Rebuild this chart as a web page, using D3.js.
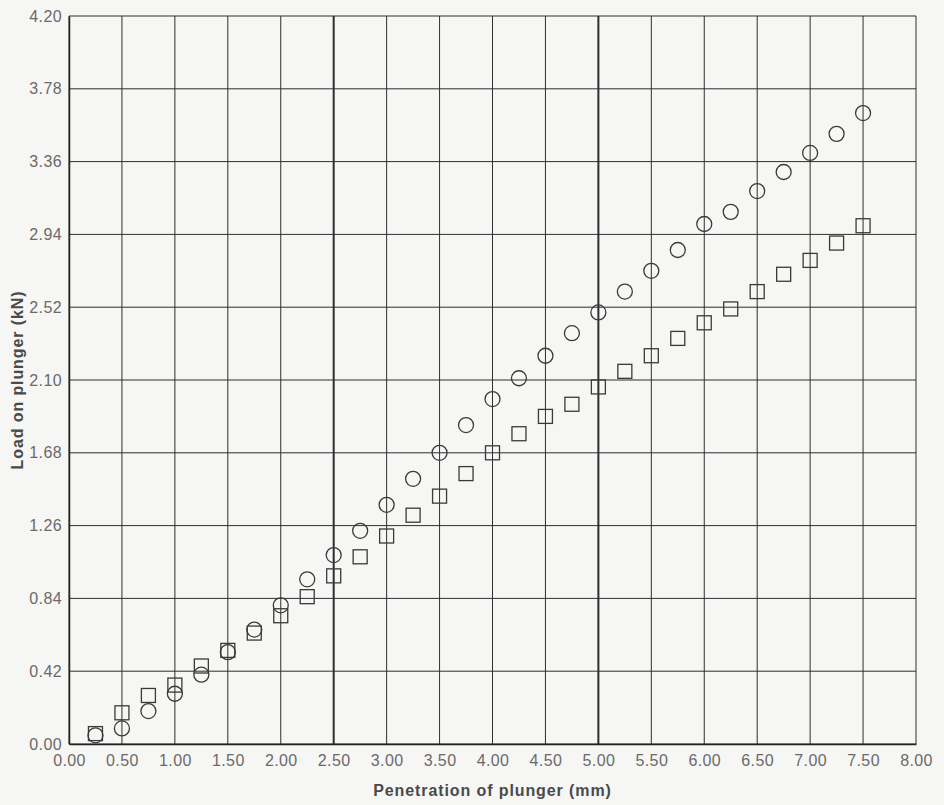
<!DOCTYPE html>
<html>
<head>
<meta charset="utf-8">
<script src="https://cdn.jsdelivr.net/npm/d3@7.9.0/dist/d3.min.js"></script>
<style>
  html, body { margin: 0; padding: 0; background: #f6f6f4; }
  svg { display: block; }
  .tick text { font-family: "Liberation Sans", Arial, sans-serif; font-size: 16px; fill: #6a6a6a; letter-spacing: 0.4px; }
  .axis-title { font-family: "Liberation Sans", Arial, sans-serif; font-size: 16px; font-weight: bold; fill: #4a4a4a; letter-spacing: 0.9px; }
</style>
</head>
<body>
<svg id="chart" width="944" height="805"></svg>
<script>
// penetration (mm) at which loads were read
const penetration = [0.25, 0.5, 0.75, 1.0, 1.25, 1.5, 1.75, 2.0, 2.25, 2.5, 2.75, 3.0, 3.25, 3.5, 3.75,
  4.0, 4.25, 4.5, 4.75, 5.0, 5.25, 5.5, 5.75, 6.0, 6.25, 6.5, 6.75, 7.0, 7.25, 7.5];

// load on plunger (kN), circle markers
const loadCircle = [0.05, 0.09, 0.19, 0.29, 0.40, 0.53, 0.66, 0.80, 0.95, 1.09, 1.23, 1.38, 1.53, 1.68, 1.84,
  1.99, 2.11, 2.24, 2.37, 2.49, 2.61, 2.73, 2.85, 3.00, 3.07, 3.19, 3.30, 3.41, 3.52, 3.64];

// load on plunger (kN), square markers
const loadSquare = [0.06, 0.18, 0.28, 0.34, 0.45, 0.54, 0.64, 0.74, 0.85, 0.97, 1.08, 1.20, 1.32, 1.43, 1.56,
  1.68, 1.79, 1.89, 1.96, 2.06, 2.15, 2.24, 2.34, 2.43, 2.51, 2.61, 2.71, 2.79, 2.89, 2.99];

const xTicks = d3.range(0, 8.001, 0.5);
const yTicks = d3.range(0, 11).map(i => +(i * 0.42).toFixed(2));

const svg = d3.select('#chart');
const margin = { left: 69, right: 28, top: 16, bottom: 61 };
const W = 944, H = 805;

const x = d3.scaleLinear().domain([0, 8]).range([margin.left, W - margin.right]);
const y = d3.scaleLinear().domain([0, 4.2]).range([H - margin.bottom, margin.top]);

const grid = svg.append('g');

// vertical grid lines, 2.5 and 5.0 drawn heavier
grid.selectAll('line.v')
  .data(xTicks)
  .join('line')
  .attr('x1', d => x(d)).attr('x2', d => x(d))
  .attr('y1', y(0)).attr('y2', y(4.2))
  .attr('stroke', '#2e2e2e')
  .attr('stroke-width', d => (d === 2.5 || d === 5) ? 2 : 1);

grid.selectAll('line.h')
  .data(yTicks)
  .join('line')
  .attr('x1', x(0)).attr('x2', x(8))
  .attr('y1', d => y(d)).attr('y2', d => y(d))
  .attr('stroke', '#2e2e2e')
  .attr('stroke-width', 1);

// axes (labels only, grid does the lines)
const xAxis = d3.axisBottom(x).tickValues(xTicks).tickFormat(d3.format('.2f')).tickSize(0).tickPadding(11);
const yAxis = d3.axisLeft(y).tickValues(yTicks).tickFormat(d3.format('.2f')).tickSize(0).tickPadding(7);

svg.append('g').attr('transform', `translate(0,${y(0)})`).call(xAxis)
  .call(g => g.select('.domain').attr('stroke', '#222').attr('stroke-width', 1.5));
svg.append('g').attr('transform', `translate(${x(0)},0)`).call(yAxis)
  .call(g => g.select('.domain').attr('stroke', '#222').attr('stroke-width', 1.5));

svg.append('text')
  .attr('class', 'axis-title')
  .attr('x', (x(0) + x(8)) / 2)
  .attr('y', 796)
  .attr('text-anchor', 'middle')
  .text('Penetration of plunger (mm)');

svg.append('text')
  .attr('class', 'axis-title')
  .attr('transform', `translate(23,${(y(0) + y(4.2)) / 2}) rotate(-90)`)
  .attr('text-anchor', 'middle')
  .text('Load on plunger (kN)');

// markers
const squares = penetration.map((p, i) => ({ p, v: loadSquare[i] }));
const circles = penetration.map((p, i) => ({ p, v: loadCircle[i] }));
const side = 14;

svg.append('g').selectAll('rect')
  .data(squares)
  .join('rect')
  .attr('x', d => x(d.p) - side / 2)
  .attr('y', d => y(d.v) - side / 2)
  .attr('width', side).attr('height', side)
  .attr('fill', 'none')
  .attr('stroke', '#3a3a3a')
  .attr('stroke-width', 1.3);

svg.append('g').selectAll('circle')
  .data(circles)
  .join('circle')
  .attr('cx', d => x(d.p))
  .attr('cy', d => y(d.v))
  .attr('r', 7.5)
  .attr('fill', 'none')
  .attr('stroke', '#3a3a3a')
  .attr('stroke-width', 1.3);
</script>
</body>
</html>
